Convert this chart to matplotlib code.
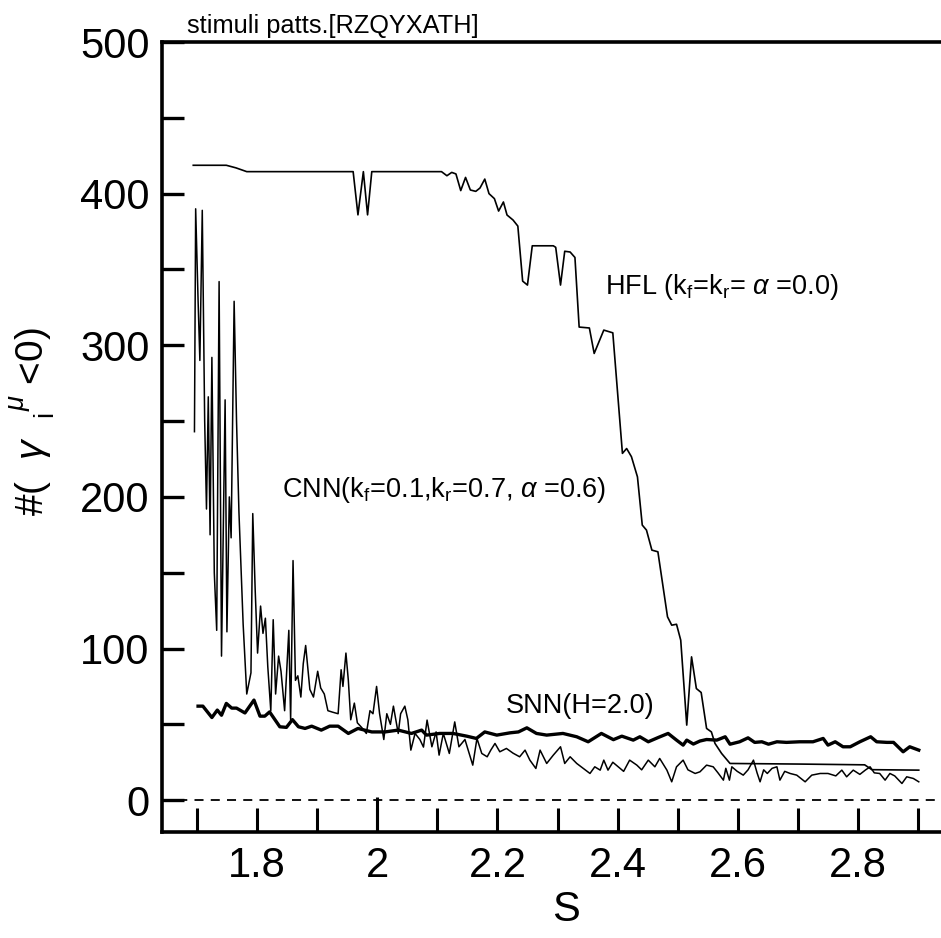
import numpy as np
import matplotlib
matplotlib.use("Agg")
from matplotlib import pyplot as plt
from matplotlib.ticker import MultipleLocator, FixedLocator, FuncFormatter

plt.rcParams['font.family'] = ['Liberation Sans', 'DejaVu Sans']
plt.rcParams['mathtext.fontset'] = 'custom'
plt.rcParams['mathtext.rm'] = 'Liberation Sans'
plt.rcParams['mathtext.it'] = 'Liberation Sans:italic'

# HFL (kf=kr=alpha=0.0)
hfl_s = [1.694, 1.749, 1.765, 1.783, 1.960, 1.968, 1.977, 1.984, 1.991, 2.107,
         2.116, 2.124, 2.131, 2.139, 2.147, 2.155, 2.164, 2.171, 2.179, 2.186,
         2.195, 2.202, 2.210, 2.216, 2.226, 2.234, 2.242, 2.250, 2.258, 2.293,
         2.297, 2.305, 2.312, 2.321, 2.329, 2.336, 2.353, 2.361, 2.377, 2.392,
         2.408, 2.415, 2.423, 2.433, 2.441, 2.448, 2.457, 2.467, 2.483, 2.490,
         2.498, 2.505, 2.515, 2.523, 2.531, 2.539, 2.548, 2.556, 2.562, 2.573,
         2.587, 2.703, 2.811, 2.823, 2.901]
hfl_n = [418.7, 418.7, 417, 414.5, 414.5, 386, 414.5, 386, 414.5, 414.5,
         411.8, 414, 413, 402, 410.7, 402.4, 401.5, 403.7, 409.6, 400,
         396.7, 388.5, 394.5, 385.9, 382.6, 378.6, 342.3, 339.7, 365.6, 365.6,
         364.6, 339.7, 362, 361.5, 357.9, 312, 311.4, 294.6, 310, 308.2,
         228.7, 231.9, 226.5, 213.2, 181.4, 178.1, 164.9, 163.8, 120.9, 115.4,
         116, 105.5, 49.5, 94.5, 73.6, 71, 47.3, 45, 37.4, 30.8,
         24.2, 23.8, 23.3, 20.1, 19.8]

# CNN (kf=0.1, kr=0.7, alpha=0.6)
cnn_s = [1.696, 1.698, 1.702, 1.705, 1.709, 1.713, 1.716, 1.719, 1.722, 1.725,
         1.729, 1.733, 1.737, 1.741, 1.744, 1.747, 1.750, 1.754, 1.757, 1.762,
         1.766, 1.770, 1.777, 1.783, 1.790, 1.793, 1.797, 1.801, 1.806, 1.810,
         1.814, 1.818, 1.823, 1.827, 1.831, 1.836, 1.840, 1.846, 1.853, 1.856,
         1.860, 1.864, 1.868, 1.873, 1.877, 1.881, 1.888, 1.894, 1.901, 1.906,
         1.912, 1.918, 1.926, 1.935, 1.940, 1.943, 1.948, 1.952, 1.956, 1.962,
         1.967, 1.974, 1.982, 1.988, 1.993, 1.999, 2.004, 2.011, 2.016, 2.022,
         2.027, 2.035, 2.039, 2.046, 2.051, 2.056, 2.063, 2.071, 2.077, 2.083,
         2.091, 2.098, 2.103, 2.110, 2.120, 2.129, 2.136, 2.146, 2.159, 2.166,
         2.174, 2.183, 2.189, 2.196, 2.204, 2.215, 2.226, 2.237, 2.246, 2.254,
         2.264, 2.271, 2.282, 2.293, 2.305, 2.312, 2.321, 2.332, 2.343, 2.354,
         2.362, 2.371, 2.377, 2.384, 2.392, 2.401, 2.410, 2.420, 2.432, 2.440,
         2.451, 2.462, 2.470, 2.482, 2.490, 2.498, 2.509, 2.517, 2.529, 2.537,
         2.548, 2.559, 2.567, 2.576, 2.580, 2.586, 2.590, 2.599, 2.609, 2.617,
         2.626, 2.632, 2.637, 2.643, 2.649, 2.657, 2.665, 2.670, 2.678, 2.687,
         2.698, 2.712, 2.723, 2.737, 2.750, 2.763, 2.773, 2.781, 2.792, 2.803,
         2.812, 2.820, 2.827, 2.836, 2.845, 2.853, 2.861, 2.873, 2.881, 2.892,
         2.901]
cnn_n = [243, 390, 330, 290, 389, 250, 192, 266, 175, 292,
         150, 112, 342, 95, 180, 264, 111, 200, 173, 329,
         250, 190, 116, 70, 84, 189, 139, 97, 128, 110,
         120, 88, 59, 119, 70, 95, 85, 59, 112, 53,
         158, 79, 82, 68, 90, 102, 73, 68, 85, 74,
         70, 59, 58, 57, 86, 75, 97, 79, 53, 64,
         51, 48, 44, 59, 57, 75, 57, 40, 57, 50,
         62, 44, 57, 62, 53, 33, 44, 40, 35, 52.8,
         35.2, 45, 29.7, 44, 30.8, 51.6, 35.2, 40, 23.1, 40.7,
         30.8, 28.6, 33, 37.4, 31.9, 34.1, 31, 28.6, 33, 26.4,
         20.9, 33, 24.2, 29.7, 35.2, 24.2, 28.6, 24.2, 20.9, 17.6,
         22, 19.8, 26.4, 19.8, 25, 22, 19, 26.4, 23.1, 20,
         26.4, 22, 27.5, 19.8, 12.1, 22, 26.4, 20, 17.6, 18.7,
         23.1, 22, 18, 13.2, 21, 13.2, 22, 19, 16.5, 20,
         26.4, 18, 12.1, 20, 17.6, 21, 22, 13.2, 19, 17.6,
         16.5, 12.1, 16.5, 17.6, 17.6, 16, 19.8, 15.4, 19.8, 17,
         19.8, 22, 18, 17.6, 13.2, 17.6, 16, 11, 15.4, 14.3,
         12.1]

# SNN (H=2.0)
snn_s = [1.702, 1.710, 1.725, 1.734, 1.741, 1.749, 1.758, 1.766, 1.780, 1.795,
         1.805, 1.813, 1.821, 1.838, 1.849, 1.859, 1.869, 1.880, 1.891, 1.907,
         1.921, 1.935, 1.952, 1.968, 1.991, 2.013, 2.035, 2.057, 2.074, 2.082,
         2.104, 2.126, 2.149, 2.165, 2.179, 2.199, 2.221, 2.235, 2.249, 2.265,
         2.282, 2.309, 2.332, 2.351, 2.373, 2.393, 2.407, 2.426, 2.437, 2.451,
         2.468, 2.484, 2.498, 2.509, 2.515, 2.526, 2.537, 2.548, 2.565, 2.579,
         2.587, 2.603, 2.617, 2.628, 2.640, 2.651, 2.665, 2.681, 2.703, 2.725,
         2.742, 2.750, 2.762, 2.775, 2.787, 2.803, 2.821, 2.831, 2.848, 2.859,
         2.875, 2.886, 2.901]
snn_n = [62, 62, 54.5, 59.4, 56, 63.8, 60.7, 60.7, 57.5, 66,
         55.4, 55.4, 58.2, 48.4, 48, 53.1, 48.4, 47.3, 48.8, 46.2,
         48.8, 48.8, 44, 47.3, 45, 45, 46.2, 44, 46.2, 42.9,
         44, 44, 42.2, 40.7, 45, 42.9, 44.4, 45, 47.7, 44,
         42.9, 44, 41.8, 38.5, 44, 39.9, 42.2, 39.6, 41.8, 38.5,
         41.4, 44, 39.6, 36.3, 39.6, 37, 39, 40, 39.6, 41.8,
         36.9, 38.5, 41.1, 38.1, 38.5, 36.9, 38.5, 38.1, 38.5, 38.5,
         40.7, 36.3, 38.5, 35.2, 35.2, 38.5, 41.8, 38.5, 38.1, 38.1,
         31.9, 35.2, 33]

fig = plt.figure(figsize=(9.41, 9.38), dpi=100)
ax = fig.add_axes([162 / 941, 106 / 938, 779 / 941, 790 / 938])

ax.plot(hfl_s, hfl_n, color='black', lw=1.2)
ax.plot(cnn_s, cnn_n, color='black', lw=1.1)
ax.plot(snn_s, snn_n, color='black', lw=2.4)
ax.axhline(0, color='black', lw=1.3, ls=(0, (5, 4)))

ax.set_xlim(1.642, 2.938)
ax.set_ylim(-21, 500)

ax.spines['right'].set_visible(False)
for side in ['left', 'top', 'bottom']:
    ax.spines[side].set_linewidth(2.6)

# ticks every 0.1, labels every 0.2; a longer tick at S=2
ax.xaxis.set_major_locator(MultipleLocator(0.1))
ax.xaxis.set_major_formatter(FuncFormatter(
    lambda v, p: ('%g' % round(v, 1)) if abs(round(v * 10)) % 2 == 0 else ''))
ax.xaxis.set_minor_locator(FixedLocator([2.0]))
ax.xaxis.remove_overlapping_locs = False
ax.yaxis.set_major_locator(MultipleLocator(50))
ax.yaxis.set_major_formatter(FuncFormatter(
    lambda v, p: '%d' % v if int(round(v)) % 100 == 0 else ''))
ax.yaxis.set_minor_locator(FixedLocator([]))
ax.tick_params(axis='x', which='major', direction='in', length=17, width=2.2,
               pad=10, labelsize=30, top=False)
ax.tick_params(axis='x', which='minor', direction='in', length=25, width=2.2,
               top=False, labelbottom=False)
ax.tick_params(axis='y', direction='in', length=16, width=2.4, pad=9,
               labelsize=30, right=False)

ax.set_xlabel('S', fontsize=30)
ax.xaxis.set_label_coords(0.519, -0.073)
ax.set_ylabel(r'#(  $\gamma$  $_{\mathrm{i}}^{\ \mu}$ <0)', fontsize=28)
ax.yaxis.set_label_coords(-0.135, 0.52)

fig.text(187 / 941, (938 - 33) / 938, 'stimuli patts.[RZQYXATH]',
         fontsize=18.3, ha='left', va='baseline')

ax.text(2.379, 334, r'HFL (k$_{\mathrm{f}}$=k$_{\mathrm{r}}$= $\alpha$ =0.0)',
        fontsize=19.5, ha='left', va='baseline')
ax.text(1.841, 200, r'CNN(k$_{\mathrm{f}}$=0.1,k$_{\mathrm{r}}$=0.7, $\alpha$ =0.6)',
        fontsize=19.5, ha='left', va='baseline')
ax.text(2.214, 57.5, 'SNN(H=2.0)', fontsize=19.5, ha='left', va='baseline')

fig.savefig('out.png', dpi=100)
